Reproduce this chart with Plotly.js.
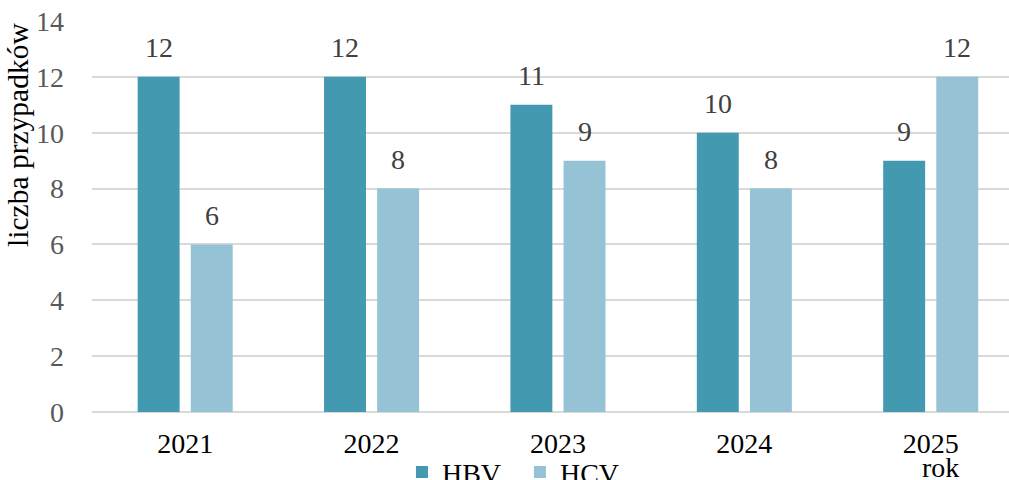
<!DOCTYPE html>
<html>
<head>
<meta charset="utf-8">
<script src="https://cdn.plot.ly/plotly-3.0.1.min.js"></script>
<style>
html,body{margin:0;padding:0;background:#fff;}
#chart{width:1009px;height:480px;}
#chart text{font-family:"Liberation Serif","Times New Roman",serif !important;}
</style>
</head>
<body>
<div id="chart"></div>
<script>
const years = ['2021', '2022', '2023', '2024', '2025'];
const hbv = [12, 12, 11, 10, 9];
const hcv = [6, 8, 9, 8, 12];
const seriesNames = ['HBV', 'HCV'];
const yTicks = [0, 2, 4, 6, 8, 10, 12, 14];

const FONT = 'Liberation Serif';
const colors = ['#4399B0', '#95C3D5'];
const barWidth = 0.225;
const offsets = [-0.255, 0.03];

const traces = [hbv, hcv].map((vals, i) => ({
  type: 'bar',
  name: seriesNames[i],
  x: years,
  y: vals,
  width: barWidth,
  offset: offsets[i],
  marker: {color: colors[i]},
  hoverinfo: 'x+y'
}));

const annotations = [];
[hbv, hcv].forEach((vals, i) => {
  vals.forEach((v, j) => {
    annotations.push({
      x: j + offsets[i] + barWidth / 2, y: v, xref: 'x', yref: 'y',
      text: String(v), showarrow: false, yanchor: 'middle', yshift: 29,
      font: {family: FONT, size: 28, color: '#404040'}
    });
  });
});
annotations.push({
  xref: 'paper', yref: 'paper', x: -0.081, y: 0.708, textangle: -90,
  text: 'liczba przypadków', showarrow: false, xanchor: 'center', yanchor: 'middle',
  font: {family: FONT, size: 29.5, color: '#000000'}
});
annotations.push({
  xref: 'paper', yref: 'paper', x: 0.925, y: -0.143,
  text: 'rok', showarrow: false, xanchor: 'center', yanchor: 'middle',
  font: {family: FONT, size: 28, color: '#000000'}
});

const layout = {
  width: 1009, height: 480,
  margin: {l: 92, r: 0, t: 21, b: 68, autoexpand: false},
  paper_bgcolor: '#ffffff', plot_bgcolor: '#ffffff',
  font: {family: FONT, size: 28, color: '#000000'},
  showlegend: true,
  legend: {
    orientation: 'h', x: 0.338, xanchor: 'left', y: -0.09, yanchor: 'top',
    font: {family: FONT, size: 28, color: '#000000'}, itemwidth: 30,
    entrywidth: 73, entrywidthmode: 'pixels', bgcolor: 'rgba(0,0,0,0)'
  },
  xaxis: {
    type: 'category', range: [-0.5, 4.42], showgrid: false, showline: false, zeroline: false,
    ticks: '', tickfont: {family: FONT, size: 28, color: '#000000'}, ticklabelstandoff: 12,
    automargin: false
  },
  yaxis: {
    range: [0, 14], tickvals: yTicks, ticktext: yTicks.map(String), showgrid: true,
    gridcolor: '#D9D9D9', gridwidth: 2, zeroline: true, zerolinecolor: '#D9D9D9', zerolinewidth: 2,
    showline: false, ticks: '', tickfont: {family: FONT, size: 28, color: '#595959'},
    ticklabelstandoff: 27, automargin: false
  },
  annotations: annotations
};

Plotly.newPlot('chart', traces, layout, {displayModeBar: false, staticPlot: true});
</script>
</body>
</html>
